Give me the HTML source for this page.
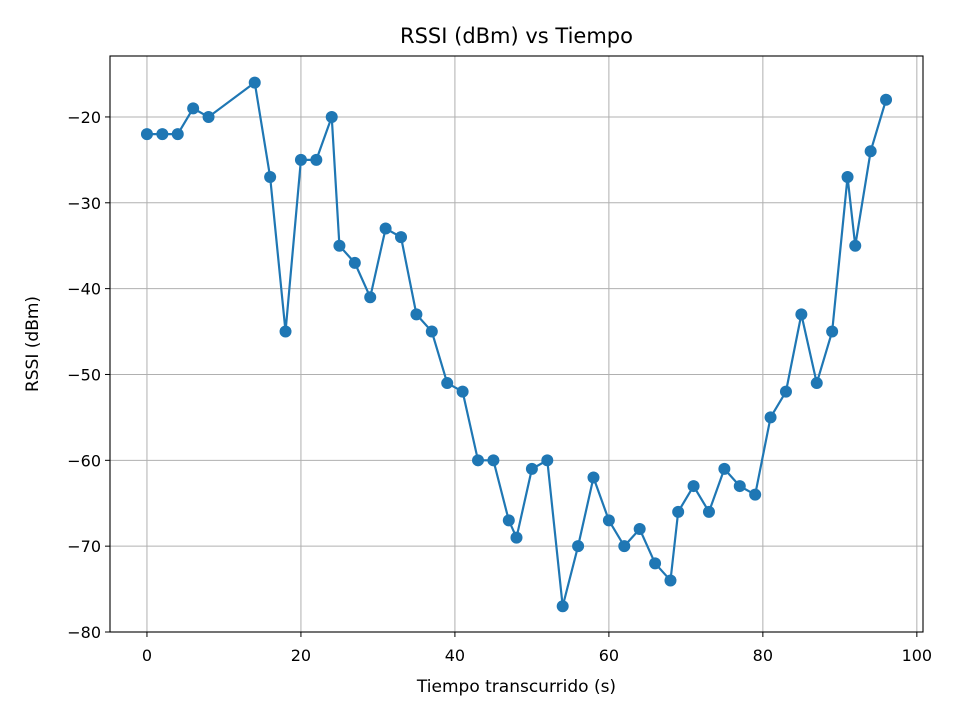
<!DOCTYPE html>
<html><head><meta charset="utf-8">
<style>
body{margin:0;background:#fff;}
svg text{font-family:"DejaVu Sans","Liberation Sans",sans-serif;fill:#000;}
</style></head>
<body>
<svg id="chart" width="960" height="720" xmlns="http://www.w3.org/2000/svg"></svg>
<script>
const times = [0,2,4,6,8,14,16,18,20,22,24,25,27,29,31,33,35,37,39,41,43,45,47,48,50,52,54,56,58,60,62,64,66,68,69,71,73,75,77,79,81,83,85,87,89,91,92,94,96];
const rssi = [-22,-22,-22,-19,-20,-16,-27,-45,-25,-25,-20,-35,-37,-41,-33,-34,-43,-45,-51,-52,-60,-60,-67,-69,-61,-60,-77,-70,-62,-67,-70,-68,-72,-74,-66,-63,-66,-61,-63,-64,-55,-52,-43,-51,-45,-27,-35,-24,-18];
const xTicks = [0,20,40,60,80,100];
const yTicks = [-20,-30,-40,-50,-60,-70,-80];

const svg = document.getElementById('chart');
const NS = 'http://www.w3.org/2000/svg';
const L=110,R=923,T=56,B=632;
const xMin=-4.8,xMax=100.8,yMin=-80,yMax=-12.9;
const sx=v=>L+(v-xMin)/(xMax-xMin)*(R-L);
const sy=v=>B-(v-yMin)/(yMax-yMin)*(B-T);
function mk(tag,attrs,parent){const e=document.createElementNS(NS,tag);for(const k in attrs)e.setAttribute(k,attrs[k]);(parent||svg).appendChild(e);return e;}

const grid=mk('g',{});


xTicks.forEach(t=>{const x=sx(t);
  const gl=mk('line',{x1:x,x2:x,y1:T,y2:B,stroke:'#b0b0b0','stroke-width':1},grid);
  
  
  mk('line',{x1:x,x2:x,y1:B,y2:B+5,stroke:'#000','stroke-width':1});
  const tx=mk('text',{x:x,y:B+29,'text-anchor':'middle','font-size':16});tx.textContent=t;
  
  
});
yTicks.forEach(t=>{const y=sy(t);
  const gl=mk('line',{x1:L,x2:R,y1:y,y2:y,stroke:'#b0b0b0','stroke-width':1},grid);
  
  
  mk('line',{x1:L-5,x2:L,y1:y,y2:y,stroke:'#000','stroke-width':1});
  const tx=mk('text',{x:L-9,y:y+6,'text-anchor':'end','font-size':16});tx.textContent='\u2212'+Math.abs(t);
  
  
});

const pts=times.map((t,i)=>sx(t)+','+sy(rssi[i])).join(' ');
const line=mk('polyline',{points:pts,fill:'none',stroke:'#1f77b4','stroke-width':2.2});


times.forEach((t,i)=>{
  const c=mk('circle',{cx:sx(t),cy:sy(rssi[i]),r:6,fill:'#1f77b4'});
  
  
});

const frame=mk('rect',{x:L,y:T,width:R-L,height:B-T,fill:'none',stroke:'#000','stroke-width':1.1});



const title=mk('text',{x:(L+R)/2,y:43,'text-anchor':'middle','font-size':21});title.textContent='RSSI (dBm) vs Tiempo';


const xl=mk('text',{x:(L+R)/2,y:692,'text-anchor':'middle','font-size':17});xl.textContent='Tiempo transcurrido (s)';


const yl=mk('text',{x:0,y:0,'text-anchor':'middle','font-size':17,transform:'translate(38,'+((T+B)/2)+') rotate(-90)'});yl.textContent='RSSI (dBm)';


</script>
</body></html>
